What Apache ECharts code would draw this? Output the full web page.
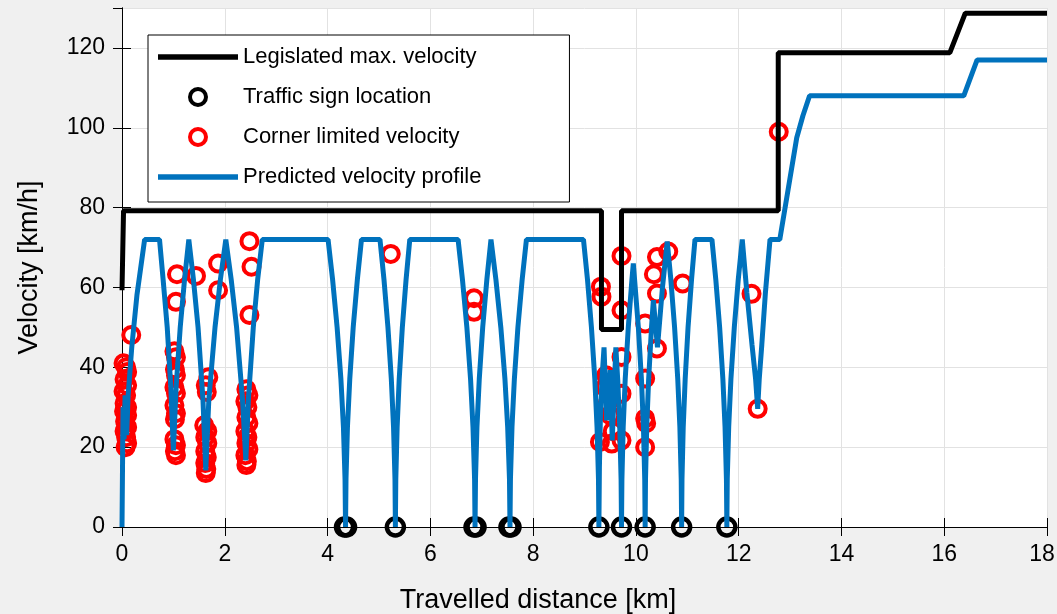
<!DOCTYPE html>
<html>
<head>
<meta charset="utf-8">
<script src="https://cdn.jsdelivr.net/npm/echarts/dist/echarts.min.js"></script>
<style>
html, body { margin: 0; padding: 0; background: #f0f0f0; }
#main { width: 1057px; height: 614px; }
</style>
</head>
<body>
<div id="main"></div>
<script>
// legislated speed limit (step line)
const legalDist = [0, 0.03, 0.03, 9.33, 9.33, 9.72, 9.72, 12.77, 12.77, 16.11, 16.41, 18]
const legalSpeed = [59.3, 59.3, 79.2, 79.2, 49.5, 49.5, 79.2, 79.2, 118.8, 118.8, 128.7, 128.7]

// traffic signs (stops), all on the x axis
const signDist = [4.33, 4.37, 5.32, 6.85, 6.89, 7.53, 7.57, 9.28, 9.72, 10.18, 10.89, 11.77]
const signSpeed = [0, 0, 0, 0, 0, 0, 0, 0, 0, 0, 0, 0]

// corner limited velocity
const cornerDist = [
	0.18, 0.03, 0.08, 0.1, 0.05, 0.1, 0.03, 0.08, 0.05, 0.1, 0.04, 0.1, 0.06, 0.1, 0.05, 0.08, 0.1, 0.07,
	1.07, 1.05, 1.02, 1.05, 1.03, 1.05, 1.02, 1.05, 1.02, 1.05, 1.03, 1.02, 1.05, 1.03, 1.05,
	1.44, 1.87, 1.87, 1.68, 1.63, 1.65, 1.6, 1.66, 1.62, 1.66, 1.62, 1.65, 1.62, 1.64, 1.63,
	2.48, 2.52, 2.48, 2.42, 2.46, 2.4, 2.44, 2.42, 2.46, 2.4, 2.44, 2.42, 2.46, 2.4, 2.43, 2.42,
	5.23, 6.85, 6.85,
	9.32, 9.33, 9.72, 9.72, 10.18, 10.41, 10.35, 10.41, 10.63, 10.91, 10.41, 10.18, 9.72, 9.72,
	10.18, 10.2, 10.18, 9.72, 9.53, 9.3, 9.4, 9.45, 9.5, 9.42, 9.55,
	12.25, 12.37, 12.78
]
const cornerSpeed = [
	48.1, 41, 40, 38.8, 37, 35.5, 34, 33, 31, 30, 29, 28, 26.5, 25, 24, 22.5, 21, 20,
	63.3, 56.4, 44, 42.5, 39.5, 38, 35, 33.5, 30.5, 28.5, 27, 22, 20.5, 19, 18,
	62.9, 66, 59.3, 37.5, 35.5, 33.8, 25.5, 24, 22.5, 21, 19, 17.5, 16, 14.5, 13.5,
	71.6, 65.2, 53.1, 34.5, 33, 31.5, 30, 27.5, 26, 24, 22.5, 21, 19.5, 18, 16.5, 15.5,
	68.4, 57.3, 53.9,
	60.2, 57.7, 67.9, 54.3, 51, 67.6, 63.3, 58.5, 69, 61, 44.7, 37.2, 42.6, 33.4,
	27.2, 26, 20, 21.7, 20.9, 21.3, 35, 31, 28, 38, 24,
	58.4, 29.6, 99
]

// predicted velocity profile
const profileDist = [
	0, 0.02, 0.04, 0.06, 0.09, 0.12, 0.19, 0.29, 0.44,
	0.73, 0.8, 0.88, 0.95, 1.0, 1.053, 1.133, 1.217, 1.3,
	1.39, 1.48, 1.575, 1.63, 1.69, 1.81, 1.915, 2.02,
	2.125, 2.23, 2.345, 2.41, 2.46, 2.555, 2.64, 2.73,
	4.01, 4.098, 4.186, 4.26, 4.309, 4.34, 4.35, 4.359, 4.387, 4.432, 4.499, 4.58, 4.66,
	5.02, 5.098, 5.175, 5.241, 5.284, 5.312, 5.32, 5.328, 5.354, 5.394, 5.455, 5.528, 5.6,
	6.54, 6.625, 6.711, 6.783, 6.83, 6.861, 6.87, 6.879, 6.907, 6.952, 7.019, 7.1, 7.18,
	7.276, 7.372, 7.452, 7.505, 7.54, 7.55, 7.559, 7.589, 7.635, 7.704, 7.787, 7.87,
	8.98, 9.058, 9.135, 9.201, 9.244, 9.272, 9.28,
	9.29, 9.31, 9.34, 9.38, 9.43, 9.5, 9.54, 9.61, 9.646, 9.686, 9.712, 9.72,
	9.728, 9.753, 9.792, 9.852, 9.923, 9.95,
	10.048, 10.108, 10.147, 10.172, 10.18,
	10.187, 10.211, 10.248, 10.304, 10.34, 10.42, 10.517, 10.61,
	10.68, 10.753, 10.815, 10.856, 10.882, 10.89,
	10.897, 10.921, 10.959, 11.015, 11.083, 11.15, 11.48,
	11.555, 11.63, 11.693, 11.735, 11.762, 11.77,
	11.778, 11.806, 11.849, 11.915, 11.992, 12.07,
	12.16, 12.26, 12.33, 12.37, 12.4, 12.45, 12.52, 12.61,
	12.8, 12.94, 13.13, 13.25, 13.38, 16.38, 16.64, 18
]
const profileSpeed = [
	0, 30, 22, 33, 23, 33, 45, 58, 72,
	72, 62, 50, 35, 19.2, 35, 50, 62, 72,
	62, 50, 32, 14.2, 32, 50, 62, 72,
	62, 50, 32, 16.7, 32, 50, 62, 72,
	72, 62, 50, 37, 25, 12, 0, 12, 25, 37, 50, 62, 72,
	72, 62, 50, 37, 25, 12, 0, 12, 25, 37, 50, 62, 72,
	72, 62, 50, 37, 25, 12, 0, 12, 25, 37, 50, 62, 72,
	62, 50, 37, 25, 12, 0, 12, 25, 37, 50, 62, 72,
	72, 62, 50, 37, 25, 12, 0,
	15, 28, 37, 45, 26.7, 39.3, 21.7, 45, 37, 25, 12, 0,
	12, 25, 37, 50, 62, 66,
	50, 37, 25, 12, 0,
	12, 25, 37, 50, 56.8, 45, 60, 71.5,
	62, 50, 37, 25, 12, 0,
	12, 25, 37, 50, 62, 72, 72,
	62, 50, 37, 25, 12, 0,
	12, 25, 37, 50, 62, 72,
	58.6, 45.6, 37, 29.6, 37, 45.6, 58.6, 72,
	72, 82.8, 97.5, 103, 108, 108, 117, 117
]

const zip = (xs, ys) => xs.map((x, i) => [x, ys[i]])

const fontFamily = '"Liberation Sans", Arial, sans-serif'
const lineIcon = 'path://M0,0H80V5.5H0Z'
const chart = echarts.init(document.getElementById('main'))

const boxAxis = {
	axisLine: { show: true, lineStyle: { color: '#000', width: 1 } },
	axisTick: { show: true, inside: true, length: 9, lineStyle: { color: '#000' } },
	axisLabel: { show: false },
	splitLine: { show: false }
}

const option = {
	backgroundColor: '#f0f0f0',
	animation: false,
	textStyle: { fontFamily: fontFamily },
	grid: {
		left: 122,
		right: 10,
		top: 8,
		bottom: 87,
		show: true,
		backgroundColor: '#fff',
		borderWidth: 0,
		outerBoundsMode: 'none'
	},
	legend: {
		orient: 'vertical',
		left: 148,
		top: 35,
		itemWidth: 80,
		itemHeight: 16,
		itemGap: 18,
		padding: [11, 88, 14, 10],
		backgroundColor: '#fff',
		borderColor: '#000',
		borderWidth: 1,
		borderRadius: 0,
		textStyle: { fontSize: 22, color: '#000', fontFamily: fontFamily },
		data: [
			{ name: 'Legislated max. velocity', icon: lineIcon, itemStyle: { color: '#000', borderWidth: 0 } },
			{ name: 'Traffic sign location', itemStyle: { color: 'rgba(0,0,0,0)', borderColor: '#000', borderWidth: 4, opacity: 1 } },
			{ name: 'Corner limited velocity', itemStyle: { color: 'rgba(0,0,0,0)', borderColor: '#ff0000', borderWidth: 4, opacity: 1 } },
			{ name: 'Predicted velocity profile', icon: lineIcon, itemStyle: { color: '#0072bd', borderWidth: 0 } }
		]
	},
	xAxis: [
		{
			type: 'value',
			min: 0,
			max: 18,
			interval: 2,
			position: 'bottom',
			name: 'Travelled distance [km]',
			nameLocation: 'middle',
			nameGap: 60,
			nameTextStyle: { fontSize: 27, color: '#000', fontFamily: fontFamily, padding: [0, 93, 0, 0] },
			axisLine: { show: true, lineStyle: { color: '#000', width: 1 } },
			axisTick: { show: true, inside: true, length: 9, lineStyle: { color: '#000' } },
			axisLabel: {
				fontSize: 23,
				color: '#000',
				margin: 16,
				fontFamily: fontFamily,
				formatter: (v) => (v === 18 ? '{last|18}' : String(v)),
				rich: { last: { fontSize: 23, color: '#000', fontFamily: fontFamily, padding: [0, 10, 0, 0] } }
			},
			splitLine: { show: true, lineStyle: { color: '#e2e2e2', width: 1 } }
		},
		Object.assign({ type: 'value', min: 0, max: 18, interval: 2, position: 'top' }, boxAxis)
	],
	yAxis: [
		{
			type: 'value',
			min: 0,
			max: 130,
			interval: 20,
			position: 'left',
			name: 'Velocity [km/h]',
			nameLocation: 'middle',
			nameGap: 79,
			nameTextStyle: { fontSize: 27, color: '#000', fontFamily: fontFamily },
			axisLine: { show: true, lineStyle: { color: '#000', width: 1 } },
			axisTick: { show: true, inside: true, length: 9, lineStyle: { color: '#000' } },
			axisLabel: { fontSize: 23, color: '#000', margin: 17, showMaxLabel: false, fontFamily: fontFamily },
			splitLine: { show: true, lineStyle: { color: '#e2e2e2', width: 1 } }
		},
		Object.assign({ type: 'value', min: 0, max: 130, interval: 20, position: 'right' }, boxAxis)
	],
	series: [
		{
			name: 'Legislated max. velocity',
			type: 'line',
			symbol: 'none',
			color: '#000',
			lineStyle: { color: '#000', width: 5 },
			data: zip(legalDist, legalSpeed)
		},
		{
			name: 'Traffic sign location',
			type: 'scatter',
			symbol: 'circle',
			symbolSize: 17,
			clip: false,
			itemStyle: { color: 'rgba(0,0,0,0)', borderColor: '#000', borderWidth: 4.5, opacity: 1 },
			data: zip(signDist, signSpeed)
		},
		{
			name: 'Corner limited velocity',
			type: 'scatter',
			symbol: 'circle',
			symbolSize: 16,
			clip: false,
			itemStyle: { color: 'rgba(0,0,0,0)', borderColor: '#ff0000', borderWidth: 4, opacity: 1 },
			data: zip(cornerDist, cornerSpeed)
		},
		{
			name: 'Predicted velocity profile',
			type: 'line',
			symbol: 'none',
			color: '#0072bd',
			lineStyle: { color: '#0072bd', width: 5 },
			data: zip(profileDist, profileSpeed)
		}
	]
}

chart.setOption(option)
</script>
</body>
</html>
